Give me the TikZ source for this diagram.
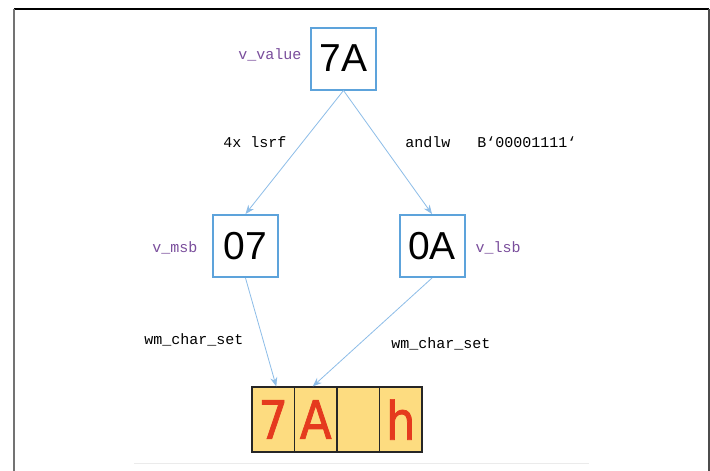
\documentclass[tikz,border=0pt]{standalone}
\usepackage{fontspec}
\setmainfont{Liberation Sans}
\newfontfamily\codefont{Liberation Mono}
\newfontfamily\digfont[FakeStretch=0.88,FakeBold=1.4]{DejaVu Sans}
\usetikzlibrary{arrows.meta}
\definecolor{boxblue}{HTML}{5DA3DB}
\definecolor{arrblue}{HTML}{8DBDE8}
\definecolor{varpurple}{HTML}{7A4E9C}
\definecolor{cellfill}{HTML}{FDDC80}
\definecolor{digred}{HTML}{E53A1E}
\tikzset{
  valbox/.style={draw=boxblue, line width=2pt, fill=white, minimum width=65pt, minimum height=62pt, inner sep=0pt, font=\fontsize{39}{39}\selectfont},
  varname/.style={text=varpurple, font=\codefont\fontsize{15}{15}\selectfont, inner sep=0pt},
  oplabel/.style={text=black, font=\codefont\fontsize{15}{15}\selectfont, inner sep=0pt},
  cell/.style={draw=black!85, line width=1.2pt, fill=cellfill, minimum width=42.5pt, minimum height=65pt, inner sep=0pt, text=digred, font=\digfont\fontsize{53}{53}\selectfont},
  conn/.style={draw=arrblue, line width=0.8pt, -{Stealth[length=9pt,width=7pt]}},
}
\begin{document}
\begin{tikzpicture}[x=1pt,y=-1pt]
\useasboundingbox (0,0) rectangle (710,471);
\fill[white] (0,0) rectangle (710,471);
% frame
\draw[black, line width=1.5pt] (14,9) -- (709,9);
\draw[black!55, line width=2pt] (14,9) -- (14,471);
\draw[black!70, line width=2pt] (709,9) -- (709,471);
\draw[black!8, line width=1pt] (134,463) -- (589,463);
% value boxes
\node[valbox] (val) at (343.5,58.5) {7A};
\node[valbox] (msb) at (245.5,246) {07};
\node[valbox] (lsb) at (432,246) {0A};
% variable names
\node[varname] (nval) at (270,55) {v\_value};
\node[varname] (nmsb) at (175,248) {v\_msb};
\node[varname] (nlsb) at (498,248) {v\_lsb};
% cells
\node[cell] (c1) at (273.25,419.5) {7};
\node[cell] (c2) at (315.75,419.5) {A};
\node[cell] (c3) at (358.25,419.5) {};
\node[cell] (c4) at (400.75,419.5) {h};
% connectors
\draw[conn] (val.south) -- (msb.north);
\draw[conn] (val.south) -- (lsb.north);
\draw[conn] (msb.south) -- ([xshift=3pt]c1.north);
\draw[conn] (lsb.south) -- ([xshift=-3pt]c2.north);
% operation labels
\node[oplabel] (op1) at (255,142) {4x lsrf};
\node[oplabel] (op2) at (491,142) {andlw\ \ \ B‘00001111‘};
\node[oplabel] (op3) at (194,340) {wm\_char\_set};
\node[oplabel] (op4) at (441,344) {wm\_char\_set};
\end{tikzpicture}
\end{document}
